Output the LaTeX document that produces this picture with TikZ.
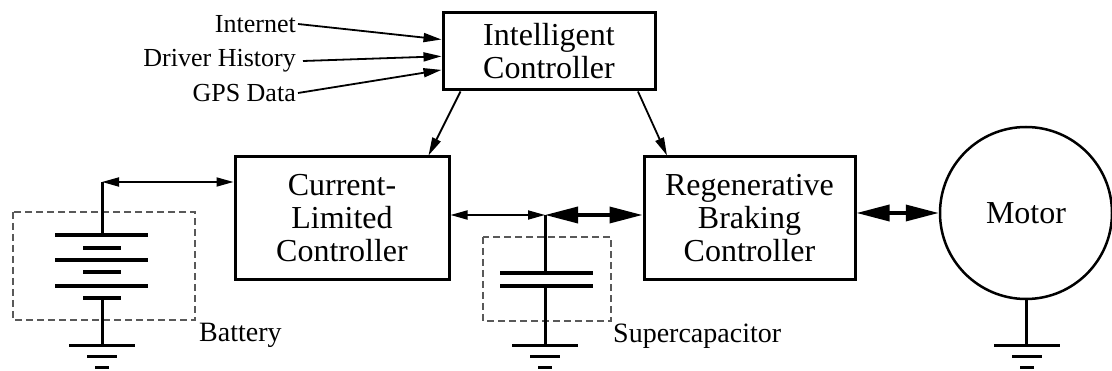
\documentclass[tikz,border=0pt]{standalone}
\usepackage{fontspec}
\setmainfont{LiberationSerif-Regular.ttf}
\newfontfamily\tms{LiberationSerif-Regular.ttf}
\usetikzlibrary{arrows.meta,calc}
\begin{document}
\begin{tikzpicture}[x=1pt,y=-1pt,
  box/.style={draw,line width=3pt,align=center,font=\tms\fontsize{32}{33}\selectfont,inner sep=0pt},
  lbl/.style={font=\tms\fontsize{26}{27}\selectfont,inner sep=0pt},
  blbl/.style={font=\tms\fontsize{28}{29}\selectfont,inner sep=0pt},
  wire/.style={line width=3pt},
  plate/.style={line width=3.5pt},
  thinarr/.style={line width=1.8pt,{Triangle[length=17pt,width=9pt]}-{Triangle[length=17pt,width=9pt]}},
  sarr/.style={line width=1.8pt,-{Triangle[length=18pt,width=9pt]}},
  thickarr/.style={line width=3.5pt,{Triangle[length=33pt,width=16pt]}-{Triangle[length=33pt,width=16pt]}},
  dbox/.style={draw=black!65,line width=2pt,dash pattern=on 7pt off 4pt},
  gnd/.pic={\draw[line width=3pt] (-33,0)--(33,0) (-15,11)--(15,11) (-7,22)--(7,22);}]
\useasboundingbox (0,0) rectangle (1112,371);

% boxes
\node[box,minimum width=212pt,minimum height=77pt] (ic) at (549,51.5) {Intelligent\\Controller};
\node[box,minimum width=214pt,minimum height=123pt] (cl) at (342,218.5) {Current-\\Limited\\Controller};
\node[box,minimum width=211pt,minimum height=123pt] (regen) at (749.5,218.5) {Regenerative\\Braking\\Controller};
\node[draw,circle,line width=2.5pt,minimum size=172pt,inner sep=0pt,font=\tms\fontsize{32}{33}\selectfont] (motor) at (1026,213) {Motor};

% inputs
\node[lbl,anchor=east] (inet) at (296,24) {Internet};
\node[lbl,anchor=east] (drv) at (296,61) {Driver History};
\node[lbl,anchor=east] (gps) at (296,93) {GPS Data};
\draw[sarr] ([xshift=2pt]inet.east) -- ($(ic.north west)!0.35!(ic.south west)$);
\draw[sarr] ([xshift=7pt]drv.east) -- ($(ic.north west)!0.56!(ic.south west)$);
\draw[sarr] ([xshift=2pt]gps.east) -- ($(ic.north west)!0.73!(ic.south west)$);

% controller arrows
\draw[sarr] ($(ic.south west)+(19,0)$) -- ($(cl.north east)+(-22,0)$);
\draw[sarr] ($(ic.south east)+(-18.5,0)$) -- ($(regen.north west)+(24.5,0)$);

% battery
\draw[dbox] (13,212) rectangle (195,320);
\coordinate (bj) at (102,182);
\draw[thinarr] (bj) -- (bj -| cl.west);
\draw[wire] (bj) -- (102,235);
\draw[plate] (55,235) -- (148,235);
\draw[plate] (83,248) -- (121,248);
\draw[plate] (55,260) -- (148,260);
\draw[plate] (83,272) -- (121,272);
\draw[plate] (55,286) -- (148,286);
\draw[plate] (83,298) -- (121,298);
\draw[wire] (102,298) -- (102,346);
\pic at (102,346) {gnd};
\node[blbl,anchor=base west] (batl) at (199,342) {Battery};

% supercapacitor
\draw[dbox] (483,237) rectangle (611,321);
\coordinate (sj) at (545,215);
\draw[thinarr] (sj -| cl.east) -- (sj);
\draw[thickarr] (sj) -- (sj -| regen.west);
\draw[wire] (sj) -- (545,273);
\draw[plate] (500,273) -- (593,273);
\draw[plate] (500,286) -- (593,286);
\draw[wire] (545,286) -- (545,346);
\pic at (545,346) {gnd};
\node[blbl,anchor=base west] (scl) at (613,343) {Supercapacitor};

% motor
\draw[thickarr] (motor.west -| regen.east) -- (motor.west);
\draw[wire] (motor.south) -- (1026,346);
\pic at (1027,346) {gnd};
\end{tikzpicture}
\end{document}
